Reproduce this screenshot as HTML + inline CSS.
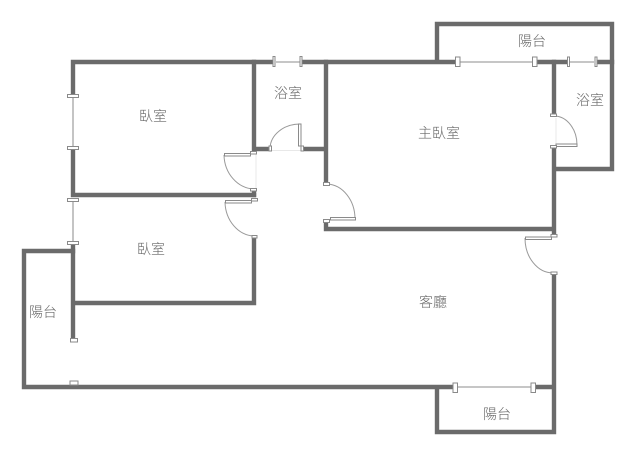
<!DOCTYPE html>
<html><head><meta charset="utf-8"><style>
html,body{margin:0;padding:0;background:#fff}
svg{display:block;filter:blur(0.35px)}
text{font-family:"Liberation Sans","Noto Sans CJK TC",sans-serif;font-size:14px;fill:#666;text-anchor:middle;font-weight:300}
.w{fill:none;stroke:#6b6b6b;stroke-width:4.4;stroke-linecap:square;stroke-linejoin:miter}
.g{fill:none;stroke:#a5a5a5;stroke-width:1.3}
.a{fill:none;stroke:#999;stroke-width:1}
.t{fill:#fff;stroke:#8a8a8a;stroke-width:1}
.f{fill:none;stroke:#e8e8e8;stroke-width:1}
</style></head><body>
<svg width="640" height="461" viewBox="0 0 640 461" xmlns="http://www.w3.org/2000/svg">
<path class="f" d="M256 152V190M270 150.500H302M556 118V146"/>
<path class="g" d="M73 98V146M73 202V241M276 62H300M459 62H533M570 62H594M457 387H531"/>
<g class="w">
<path d="M73 95V62H272M303 62H455M537 62H566M598 62H612"/>
<path d="M437 60V24H612V169H555"/>
<path d="M73 150V195H254M254 62V149H268M304 149H326M326 62V182"/>
<path d="M254 191V195"/>
<path d="M254 238V303H73M73 245V338"/>
<path d="M73 251H24V387H453M535 387H554M554 275V432H437V389"/>
<path d="M554 62V113M554 149V234M326 223V229H554"/>
</g>
<g class="a">
<path d="M300 124A30 25 0 0 0 270 148"/>
<path d="M224 155A31 35 0 0 0 254 189"/>
<path d="M225 202A30 35 0 0 0 254 236"/>
<path d="M327 184A29 35 0 0 1 355 219"/>
<path d="M555 116A23 29 0 0 1 577 145"/>
<path d="M525 238A28 35 0 0 0 553 273"/>
</g>
<g class="t">
<rect x="67.500" y="94.500" width="11" height="3"/>
<rect x="67.500" y="146.500" width="11" height="3"/>
<rect x="67.500" y="198.500" width="11" height="3"/>
<rect x="67.500" y="241.500" width="11" height="3"/>
<rect x="70.500" y="338.500" width="7" height="3.500"/>
<rect x="70" y="381" width="8" height="4"/>
<rect x="273" y="56.500" width="2" height="10"/>
<rect x="300" y="56.500" width="2" height="10"/>
<rect x="455.500" y="57" width="4.500" height="9.500"/>
<rect x="532.500" y="57" width="4.500" height="9.500"/>
<rect x="567.500" y="57" width="2" height="9.500"/>
<rect x="595" y="57" width="2" height="9.500"/>
<rect x="453" y="383" width="4.500" height="9.500"/>
<rect x="531" y="383" width="4.500" height="9.500"/>
<rect x="224.500" y="153.500" width="26" height="2.500"/>
<rect x="250.500" y="151.500" width="6" height="2.500"/>
<rect x="250.500" y="188.500" width="6" height="2.500"/>
<rect x="225.500" y="200.500" width="26" height="2.500"/>
<rect x="251.500" y="198.500" width="6" height="2.500"/>
<rect x="252" y="235.500" width="5" height="2.500"/>
<rect x="298.500" y="124" width="2.500" height="22"/>
<rect x="269" y="146" width="2.500" height="5"/>
<rect x="301" y="146" width="2.500" height="5"/>
<rect x="330.500" y="217.500" width="25" height="2.500"/>
<rect x="323.500" y="182.500" width="6" height="3"/>
<rect x="323.500" y="219.500" width="6" height="3"/>
<rect x="556" y="144" width="21" height="2.500"/>
<rect x="550.500" y="114" width="6" height="2.500"/>
<rect x="550.500" y="145.500" width="6" height="2.500"/>
<rect x="525.500" y="237" width="26" height="2.500"/>
<rect x="551" y="234.500" width="6" height="2.500"/>
<rect x="551" y="272" width="6" height="2.500"/>
</g>
<text x="153" y="121">臥室</text>
<text x="288" y="98">浴室</text>
<text x="439" y="138">主臥室</text>
<text x="532" y="46">陽台</text>
<text x="590" y="105">浴室</text>
<text x="151" y="254">臥室</text>
<text x="433" y="307">客廳</text>
<text x="43" y="317">陽台</text>
<text x="497" y="419">陽台</text>
</svg>
</body></html>
